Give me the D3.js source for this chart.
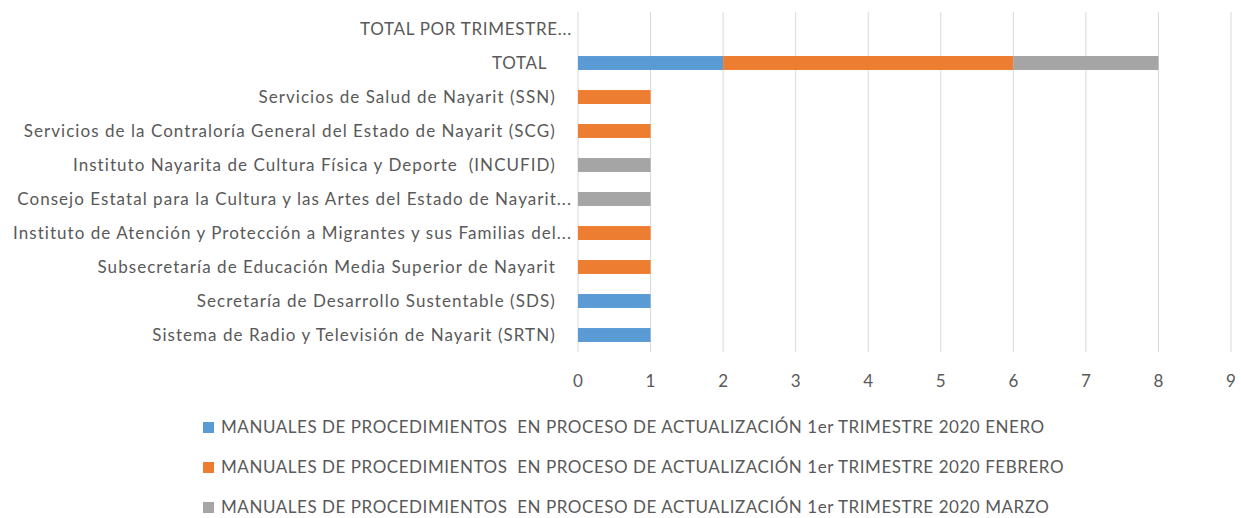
<!DOCTYPE html>
<html>
<head>
<meta charset="utf-8">
<script src="https://cdn.jsdelivr.net/npm/d3@7/dist/d3.min.js"></script>
<style>
  body { margin: 0; background: #fff; }
  text { font-family: Lato, "DejaVu Sans Condensed", sans-serif; fill: #595959; white-space: pre; }
</style>
</head>
<body>
<div id="chart"></div>
<script>
// categories, top to bottom as drawn
var categories = [
  "TOTAL POR TRIMESTRE...",
  "TOTAL     ",
  "Servicios de Salud de Nayarit (SSN)   ",
  "Servicios de la Contraloría General del Estado de Nayarit (SCG)   ",
  "Instituto Nayarita de Cultura Física y Deporte  (INCUFID)   ",
  "Consejo Estatal para la Cultura y las Artes del Estado de Nayarit...",
  "Instituto de Atención y Protección a Migrantes y sus Familias del...",
  "Subsecretaría de Educación Media Superior de Nayarit   ",
  "Secretaría de Desarrollo Sustentable (SDS)   ",
  "Sistema de Radio y Televisión de Nayarit (SRTN)   "
];
var enero   = [0, 2, 0, 0, 0, 0, 0, 0, 1, 1];
var febrero = [0, 4, 1, 1, 0, 0, 1, 1, 0, 0];
var marzo   = [0, 2, 0, 0, 1, 1, 0, 0, 0, 0];
var xTicks = [0, 1, 2, 3, 4, 5, 6, 7, 8, 9];
var seriesNames = [
  "MANUALES DE PROCEDIMIENTOS  EN PROCESO DE ACTUALIZACIÓN 1er TRIMESTRE 2020 ENERO",
  "MANUALES DE PROCEDIMIENTOS  EN PROCESO DE ACTUALIZACIÓN 1er TRIMESTRE 2020 FEBRERO",
  "MANUALES DE PROCEDIMIENTOS  EN PROCESO DE ACTUALIZACIÓN 1er TRIMESTRE 2020 MARZO"
];
var colours = ["#5B9BD5", "#ED7D31", "#A5A5A5"];

var width = 1241, height = 518;
var margin = { top: 12, right: 10, bottom: 166, left: 578 };
var plotH = height - margin.top - margin.bottom;

var svg = d3.select("#chart").append("svg")
  .attr("width", width)
  .attr("height", height);

var g = svg.append("g")
  .attr("transform", "translate(" + margin.left + "," + margin.top + ")");

var x = d3.scaleLinear().domain([0, 9]).range([0, 653]);
var y = d3.scaleBand().domain(categories).range([0, plotH]).paddingInner(0.59).paddingOuter(0.295);

// grid lines
g.selectAll(".grid")
  .data(xTicks)
  .enter().append("line")
  .attr("x1", function (d) { return x(d); })
  .attr("x2", function (d) { return x(d); })
  .attr("y1", 0)
  .attr("y2", plotH)
  .attr("stroke", "#d9d9d9")
  .attr("stroke-width", 1);

// tick labels
g.selectAll(".xlab")
  .data(xTicks)
  .enter().append("text")
  .attr("x", function (d) { return x(d); })
  .attr("y", plotH + 35)
  .attr("text-anchor", "middle")
  .style("font-size", "17px")
  .text(function (d) { return d; });

// stacked bars
var rows = categories.map(function (c, i) {
  return { cat: c, vals: [enero[i], febrero[i], marzo[i]] };
});
rows.forEach(function (r) {
  var acc = 0;
  r.vals.forEach(function (v, k) {
    if (v > 0) {
      g.append("rect")
        .attr("x", x(acc))
        .attr("y", y(r.cat))
        .attr("width", x(acc + v) - x(acc))
        .attr("height", y.bandwidth())
        .attr("fill", colours[k]);
    }
    acc += v;
  });
});

// category labels (upper-case ones get a bit less tracking)
g.selectAll(".ylab")
  .data(categories)
  .enter().append("text")
  .attr("x", -6)
  .attr("y", function (d) { return y(d) + y.bandwidth() / 2; })
  .attr("dy", "0.35em")
  .attr("text-anchor", "end")
  .style("font-size", "17px")
  .style("letter-spacing", function (d) { return d.indexOf("TOTAL") === 0 ? "0.7px" : "1.05px"; })
  .text(function (d) { return d; });

// legend
var leg = svg.append("g").attr("transform", "translate(203,0)");
seriesNames.forEach(function (name, i) {
  var yy = 427 + i * 40;
  leg.append("rect")
    .attr("x", 0).attr("y", yy - 5)
    .attr("width", 11).attr("height", 11)
    .attr("fill", colours[i]);
  leg.append("text")
    .attr("x", 18).attr("y", yy)
    .attr("dy", "0.35em")
    .style("font-size", "17px")
    .style("letter-spacing", "0.55px")
    .text(name);
});
</script>
</body>
</html>
